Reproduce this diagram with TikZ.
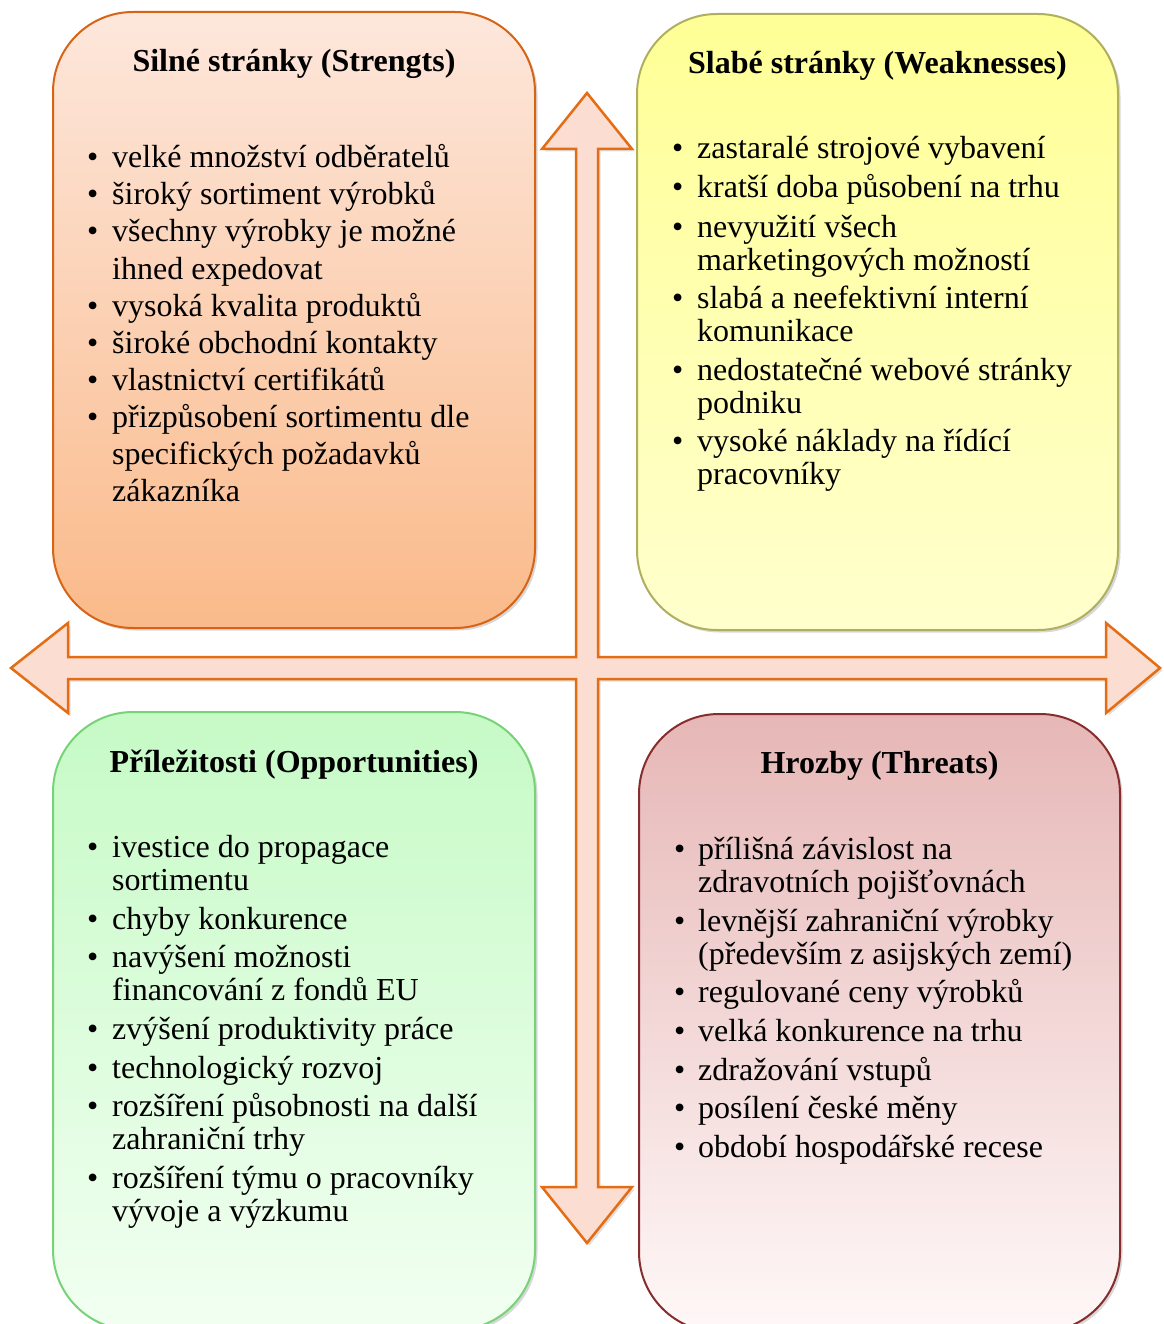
\documentclass[tikz,border=0pt]{standalone}
\usepackage{fontspec}
\setmainfont{Liberation Serif}
\usetikzlibrary{shadows}
\definecolor{arrfill}{RGB}{252,221,209}
\definecolor{arrline}{RGB}{228,108,18}
\definecolor{sTop}{RGB}{253,231,220}
\definecolor{sBot}{RGB}{250,186,138}
\definecolor{sLine}{RGB}{214,100,20}
\definecolor{wTop}{RGB}{255,255,150}
\definecolor{wBot}{RGB}{255,255,205}
\definecolor{wLine}{RGB}{175,175,95}
\definecolor{oTop}{RGB}{198,250,198}
\definecolor{oBot}{RGB}{242,255,242}
\definecolor{oLine}{RGB}{120,210,120}
\definecolor{tTop}{RGB}{230,183,182}
\definecolor{tBot}{RGB}{255,248,248}
\definecolor{tLine}{RGB}{135,45,45}
\tikzset{
  swotbox/.style={draw, line width=2pt, rounded corners=80pt, inner sep=0pt,
    drop shadow={opacity=0.3, shadow xshift=2.5pt, shadow yshift=-2.5pt}},
  ttl/.style={anchor=base, inner sep=0pt, font=\fontsize{32}{37}\selectfont\bfseries},
  itm/.style={anchor=base west, inner sep=0pt, font=\fontsize{32}{33.5}\selectfont},
  itmwide/.style={itm, font=\fontsize{32}{37}\selectfont},
  crossarrow/.style={fill=arrfill, draw=arrline, line width=2.5pt, line join=miter,
    drop shadow={opacity=0.25, shadow xshift=2.5pt, shadow yshift=-2.5pt}}
}
\newcommand\bul[2]{\makebox[#1][l]{\textbullet}\parbox[t]{440pt}{\raggedright #2}}
\begin{document}
\begin{tikzpicture}[x=1pt,y=-1pt]
\useasboundingbox (0,0) rectangle (1163,1324);
\clip (0,0) rectangle (1163,1324);
\fill[white] (0,0) rectangle (1163,1324);

% cross arrow
\draw[crossarrow] (587,93) -- (632,149) -- (598,149) -- (598,657) -- (1106,657) -- (1106,623)
  -- (1160,668) -- (1106,713) -- (1106,679) -- (598,679) -- (598,1187) -- (632,1187)
  -- (587,1243) -- (542,1187) -- (576,1187) -- (576,679) -- (68,679) -- (68,713)
  -- (11,668) -- (68,623) -- (68,657) -- (576,657) -- (576,149) -- (542,149) -- cycle;

% boxes
\node[swotbox, draw=sLine, top color=sTop, bottom color=sBot,
  minimum width=482pt, minimum height=616pt] (S) at (294,320) {};
\node[swotbox, draw=wLine, top color=wTop, bottom color=wBot,
  minimum width=481pt, minimum height=616pt] (W) at (877.5,322) {};
\node[swotbox, draw=oLine, top color=oTop, bottom color=oBot,
  minimum width=482pt, minimum height=618pt] (O) at (294,1021) {};
\node[swotbox, draw=tLine, top color=tTop, bottom color=tBot,
  minimum width=481pt, minimum height=618pt] (T) at (879.5,1023) {};

% titles
\node[ttl] (St) at (294,72) {Silné stránky (Strengts)};
\node[ttl] (Wt) at (877.5,74) {Slabé stránky (Weaknesses)};
\node[ttl] (Ot) at (294,772) {Příležitosti (Opportunities)};
\node[ttl] (Tt) at (879.5,773) {Hrozby (Threats)};

% strengths
\node[itmwide] (s1) at (87,168) {\bul{25pt}{velké množství odběratelů}};
\node[itmwide] (s2) at (87,205) {\bul{25pt}{široký sortiment výrobků}};
\node[itmwide] (s3) at (87,242) {\bul{25pt}{všechny výrobky je možné\\ihned expedovat}};
\node[itmwide] (s4) at (87,316) {\bul{25pt}{vysoká kvalita produktů}};
\node[itmwide] (s5) at (87,353) {\bul{25pt}{široké obchodní kontakty}};
\node[itmwide] (s6) at (87,390) {\bul{25pt}{vlastnictví certifikátů}};
\node[itmwide] (s7) at (87,427) {\bul{25pt}{přizpůsobení sortimentu dle\\specifických požadavků\\zákazníka}};

% weaknesses
\node[itm] (w1) at (672,159) {\bul{25pt}{zastaralé strojové vybavení}};
\node[itm] (w2) at (672,198) {\bul{25pt}{kratší doba působení na trhu}};
\node[itm] (w3) at (672,237) {\bul{25pt}{nevyužití všech\\marketingových možností}};
\node[itm] (w4) at (672,308) {\bul{25pt}{slabá a neefektivní interní\\komunikace}};
\node[itm] (w5) at (672,380) {\bul{25pt}{nedostatečné webové stránky\\podniku}};
\node[itm] (w6) at (672,451) {\bul{25pt}{vysoké náklady na řídící\\pracovníky}};

% opportunities
\node[itm] (o1) at (87,857) {\bul{25pt}{ivestice do propagace\\sortimentu}};
\node[itm] (o2) at (87,929) {\bul{25pt}{chyby konkurence}};
\node[itm] (o3) at (87,967) {\bul{25pt}{navýšení možnosti\\financování z fondů EU}};
\node[itm] (o4) at (87,1039) {\bul{25pt}{zvýšení produktivity práce}};
\node[itm] (o5) at (87,1078) {\bul{25pt}{technologický rozvoj}};
\node[itm] (o6) at (87,1116) {\bul{25pt}{rozšíření působnosti na další\\zahraniční trhy}};
\node[itm] (o7) at (87,1188) {\bul{25pt}{rozšíření týmu o pracovníky\\vývoje a výzkumu}};

% threats
\node[itm] (t1) at (674,859) {\bul{24pt}{přílišná závislost na\\zdravotních pojišťovnách}};
\node[itm] (t2) at (674,931) {\bul{24pt}{levnější zahraniční výrobky\\(především z asijských zemí)}};
\node[itm] (t3) at (674,1002) {\bul{24pt}{regulované ceny výrobků}};
\node[itm] (t4) at (674,1041) {\bul{24pt}{velká konkurence na trhu}};
\node[itm] (t5) at (674,1080) {\bul{24pt}{zdražování vstupů}};
\node[itm] (t6) at (674,1118) {\bul{24pt}{posílení české měny}};
\node[itm] (t7) at (674,1157) {\bul{24pt}{období hospodářské recese}};
\end{tikzpicture}
\end{document}
